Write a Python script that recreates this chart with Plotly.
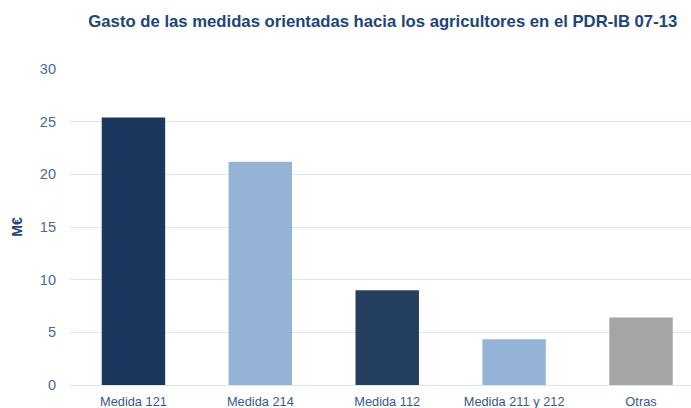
import plotly.graph_objects as go

categories = ["Medida 121", "Medida 214", "Medida 112", "Medida 211 y 212", "Otras"]
values = [25.4, 21.2, 9.0, 4.35, 6.4]
colors = ["#1b375e", "#95b3d7", "#243f60", "#95b3d7", "#a5a5a5"]
y_ticks = [0, 5, 10, 15, 20, 25, 30]

font_fam = "Liberation Sans Narrow, Arial Narrow, Liberation Sans, Arial, sans-serif"

fig = go.Figure(go.Bar(
    x=categories, y=values,
    marker=dict(color=colors, line=dict(width=0)),
    width=0.5,
))

fig.update_layout(
    width=691, height=408,
    margin=dict(l=70, r=0, t=69, b=23),
    paper_bgcolor="white", plot_bgcolor="white",
    showlegend=False,
    title=dict(
        text="<b>Gasto de las medidas orientadas hacia los agricultores en el PDR-IB 07-13</b>",
        x=0.554, xanchor="center", y=0.947, yanchor="middle",
        font=dict(family=font_fam, size=16.7, color="#1f4476"),
    ),
    xaxis=dict(
        range=[-0.5, 4.394],
        showgrid=False, showline=False, zeroline=False,
        ticks="", ticklabelstandoff=7,
        tickfont=dict(family=font_fam, size=12.8, color="#3b5a85"),
    ),
    yaxis=dict(
        range=[0, 30], tickvals=y_ticks,
        showgrid=True, gridcolor="#dce6f2", gridwidth=1,
        zeroline=True, zerolinecolor="#dce6f2", zerolinewidth=1,
        showline=False, ticks="", ticklabelstandoff=13,
        tickfont=dict(family=font_fam, size=14.5, color="#4a6a95"),
        title=dict(text="<b>M€</b>", standoff=13,
                   font=dict(family=font_fam, size=14, color="#1f4476")),
    ),
)

fig.write_html("out.html", config={"displayModeBar": False},
               post_script="document.body.style.margin='0';document.body.style.padding='0';")
